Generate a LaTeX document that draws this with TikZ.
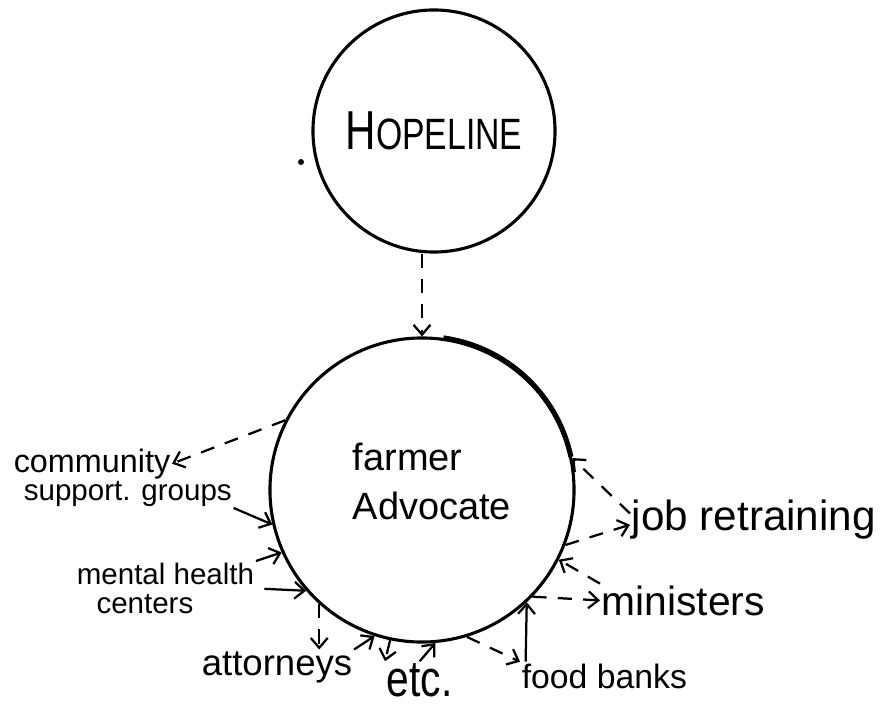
\documentclass[tikz,border=0pt]{standalone}
\usepackage{fontspec}
\setmainfont{Liberation Sans}
\usetikzlibrary{arrows.meta}
\tikzset{
  bub/.style={circle, draw, line width=2.2pt, inner sep=0pt},
  lbl/.style={font=\fontsize{#1}{#1}\selectfont, inner sep=0.5pt, anchor=base west},
  dsh/.style={dash pattern=on 10pt off 8pt},
  >={Straight Barb[length=7pt,width=12pt]}
}
\begin{document}
\begin{tikzpicture}[x=0.025cm,y=0.025cm,line width=1.6pt]
\useasboundingbox (0,0) rectangle (888,706);
% the two circles
\node[bub, minimum size=6.05cm] (hope) at (434,575)
  {\scalebox{1}[1.3]{\fontsize{30}{30}\selectfont H\fontsize{24}{24}\selectfont OPELINE}};
\node[bub, minimum size=7.6cm] (farmer) at (422,216) {};
\node[align=left, font=\fontsize{27}{35}\selectfont] (fatext) at ([xshift=7pt,yshift=6pt]farmer)
  {farmer\\Advocate};
\draw[line width=3.6pt] (farmer.82) arc[start angle=82, end angle=12, radius=3.8cm];
\fill (301,544) circle[radius=3];
\draw[dsh,->] (farmer.north |- hope.south) -- (farmer.north);
% the labels round the farmer advocate
\node[lbl=23] (comm) at (12,234) {community};
\node[lbl=21] (supp) at (22,206) {support. groups};
\node[lbl=21, anchor=north west, align=left, font=\fontsize{21}{21}\selectfont]
  (mhc) at (75,145) {mental health\\\hspace*{14pt}centers};
\node[lbl=26] (atty) at (200,31) {attorneys};
\node[lbl=29] (etc) at (385,10) {\scalebox{1}[1.25]{etc.}};
\node[lbl=24] (food) at (520,18) {food banks};
\node[lbl=29] (mini) at (600,91) {ministers};
\node[lbl=30] (job) at (630,176) {job retraining};
% connectors
\draw[dsh,->] (farmer.153) -- (comm.east);
\draw[->] (supp.south east) -- (farmer.193);
\draw[->] (mhc.north east) -- (farmer.204);
\draw[->,shorten <=6pt] (mhc.east) -- (farmer.221);
\draw[dsh,->] (farmer.228) -- (farmer.228 |- atty.north);
\draw[->] (atty.north east) -- (farmer.252);
\draw[dsh,->] (farmer.258) -- (etc.north west);
\draw[->] (etc.north) -- (farmer.275);
\draw[dsh,->] (farmer.287) -- (food.north west);
\draw[->] ([xshift=4pt]food.north west) -- (farmer.313);
\draw[dsh,->] (farmer.316) -- (mini.west);
\draw[dsh,->] (mini.north west) -- (farmer.333);
\draw[dsh,->] (farmer.339) -- ([yshift=-4pt]job.west);
\draw[dsh,->] ([yshift=4pt]job.west) -- (farmer.12);
\end{tikzpicture}
\end{document}
